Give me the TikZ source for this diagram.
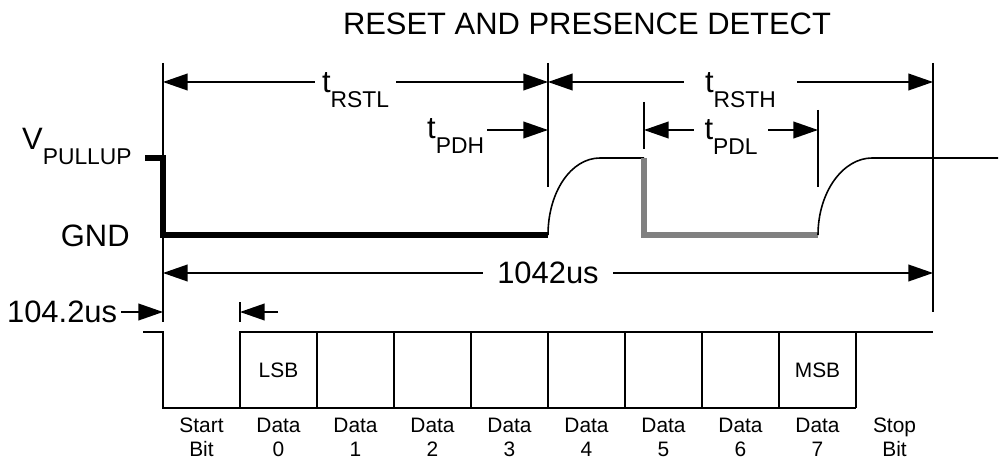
\documentclass[tikz,border=0pt]{standalone}
\usepackage{fontspec}
\setmainfont{Liberation Sans}
\usepackage{tikz}
\usetikzlibrary{arrows.meta}
\definecolor{SigGray}{HTML}{808080}
\newcommand{\bigtxt}{\fontsize{17.6}{21}\selectfont}
\newcommand{\smalltxt}{\fontsize{11.9}{13.6}\selectfont}
\newcommand{\lowsub}[1]{\raisebox{-8.3pt}{\fontsize{13}{15}\selectfont #1}}

\begin{document}
\begin{tikzpicture}[x=0.02cm, y=-0.02cm, >={Triangle[length=14pt,width=9.5pt]},
    thinline/.style={line width=0.9pt},
    tickline/.style={line width=1.1pt},
    lowsig/.style={line width=2.9pt},
    bitline/.style={line width=1.2pt},
    dimlabel/.style={fill=white, inner ysep=1pt, font=\bigtxt},
    bitlabel/.style={font=\smalltxt, anchor=north, align=center, inner sep=0pt}]
    \useasboundingbox (0,0) rectangle (1000,459);

    % Title
    \node[font=\bigtxt, anchor=base] (title) at (587,35) {RESET AND PRESENCE DETECT};

    % Level labels
    \node[font=\bigtxt, anchor=base east, inner sep=0pt] (vpull) at (132,150) {V\lowsub{PULLUP}};
    \node[font=\bigtxt, anchor=base east, inner sep=0pt] (gnd) at (130,246) {GND};

    % Time marks
    \draw[tickline] (163,63) -- (163,322);
    \draw[tickline] (548,63) -- (548,187);
    \draw[tickline] (933,63) -- (933,312);
    \draw[tickline] (644,102) -- (644,149);
    \draw[tickline] (818,110) -- (818,187);
    \draw[tickline] (240,302) -- (240,322);

    \coordinate (rst0) at (163,82);
    \coordinate (rst1) at (548,82);
    \coordinate (rst2) at (933,82);
    \coordinate (pdh1) at (548,130);
    \coordinate (pdl0) at (644,130);
    \coordinate (pdl1) at (818,130);
    \coordinate (us0) at (163,273);
    \coordinate (us1) at (933,273);
    \coordinate (bit0) at (163,312);
    \coordinate (bit1) at (240,312);
    \coordinate (bit1r) at (278,312);

    % Dimension arrows
    \draw[thinline, <->] (rst0) -- (rst1)
        node[midway, dimlabel, anchor=base, yshift=-6.2pt, inner xsep=4pt] (rstl) {t\lowsub{RSTL}};
    \draw[thinline, <->] (rst1) -- (rst2)
        node[midway, dimlabel, anchor=base, yshift=-6.2pt, inner xsep=12pt] (rsth) {t\lowsub{RSTH}};
    \draw[thinline, <->] (pdl0) -- (pdl1)
        node[midway, dimlabel, anchor=base, yshift=-5.5pt, inner xsep=6pt] (pdl) {t\lowsub{PDL}};
    \node[font=\bigtxt, anchor=base east, inner xsep=1.5pt, inner ysep=0pt] (pdh) at (487,139) {t\lowsub{PDH}};
    \draw[thinline, ->] (pdh.east |- pdh1) -- (pdh1);
    \draw[thinline, <->] (us0) -- (us1)
        node[midway, dimlabel, inner xsep=8pt] (frame) {1042us};
    \node[font=\bigtxt, anchor=base east, inner xsep=2pt, inner ysep=0pt] (bitlen) at (121,322) {104.2us};
    \draw[thinline, ->] (bitlen.east |- bit0) -- (bit0);
    \draw[thinline, ->] (bit1r) -- (bit1);

    % Bus waveform
    \draw[lowsig] (145,158) -- (163,158) -- (163,235) -- (548,235);
    \draw[thinline] (548,235) .. controls (548,192) and (571,158) .. (600,158) -- (644,158);
    \draw[lowsig, SigGray] (644,158) -- (644,235) -- (818,235);
    \draw[thinline] (818,235) .. controls (818,192) and (843,158) .. (872,158) -- (998,158);

    % Serial frame
    \draw[bitline] (143,332) -- (163,332) -- (163,408) -- (856,408);
    \draw[bitline] (240,408) -- (240,332) -- (933,332);
    \foreach \i in {1,...,8}
        \draw[bitline] ({240+77*\i},332) -- ({240+77*\i},408);
    \node[font=\smalltxt] (lsb) at (278.5,370) {LSB};
    \node[font=\smalltxt] (msb) at (817.5,370) {MSB};

    \node[bitlabel] (lstart) at (201.5,418) {Start\\Bit};
    \foreach \i in {0,...,7}
        \node[bitlabel] (ld\i) at ({278.5+77*\i},418) {Data\\\i};
    \node[bitlabel] (lstop) at (894.5,418) {Stop\\Bit};

\end{tikzpicture}
\end{document}
